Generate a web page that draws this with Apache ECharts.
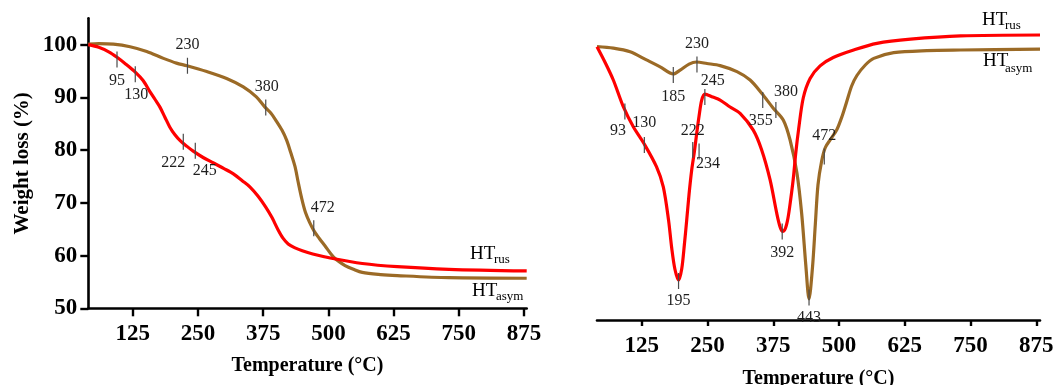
<!DOCTYPE html>
<html>
<head>
<meta charset="utf-8">
<script src="https://cdn.jsdelivr.net/npm/echarts@6/dist/echarts.min.js"></script>
<style>
  html, body { margin: 0; padding: 0; background: #fff; }
  #chart { width: 1054px; height: 385px; }
</style>
</head>
<body>
<div id="chart"></div>
<script>
// Temperature ticks shared by both panels, weight ticks for the TG panel
const tempTicks = [125, 250, 375, 500, 625, 750, 875];
const weightTicks = [50, 60, 70, 80, 90, 100];

// TG curves: [temperature °C, weight %]
const tgaRus = [
  [40, 100], [60, 99.5], [80, 98.6], [95, 97.6], [112, 96.3], [130, 94.8], [145, 93.2],
  [158, 91.1], [168, 89.6], [177, 88.2], [187, 86.2], [196, 84.4], [206, 82.9], [216, 81.8],
  [228, 80.8], [241, 79.8], [260, 78.6], [279, 77.6], [300, 76.5], [318, 75.5], [335, 74.2],
  [350, 73], [365, 71.3], [380, 69.2], [392, 67.2], [403, 65], [413, 63.3], [423, 62.2],
  [435, 61.5], [450, 60.9], [470, 60.3], [506, 59.5], [565, 58.5], [632, 57.9], [731, 57.4],
  [880, 57.1]
];
const tgaAsym = [
  [40, 100.1], [60, 100.2], [88, 100.1], [120, 99.6], [152, 98.7], [184, 97.4], [209, 96.5],
  [229, 96], [267, 94.9], [305, 93.6], [337, 92], [362, 90.1], [378, 88.2], [390, 87],
  [401, 85.4], [411, 83.8], [420, 81.9], [428, 79.5], [436, 76.9], [442, 74], [449, 70.8],
  [456, 68.2], [464, 66.3], [473, 64.6], [483, 63.2], [493, 61.9], [509, 59.8], [520, 58.9],
  [532, 58.1], [548, 57.4], [565, 56.8], [600, 56.4], [632, 56.2], [731, 55.8], [880, 55.7]
];

// DTG curves: [temperature °C, signal (arb. units)]
const dtgRus = [
  [40, 91.1], [55, 86], [71, 80], [90, 71.1], [109, 64.4], [131, 58.3], [153, 51.1],
  [166, 44.4], [176, 33.3], [182, 24], [188, 17], [195, 13.3], [201, 17], [206, 25],
  [210.5, 33.3], [215, 42], [220, 50], [225, 56], [229.5, 62.2], [234, 68], [239, 73.3],
  [245, 75.3], [260, 74.3], [274, 73.3], [293, 71], [312, 68.9], [337, 63.3], [353, 56.7],
  [369, 46.7], [381.6, 35.6], [388, 31], [393, 29.5], [398, 30.5], [403, 34], [408, 40],
  [413, 47], [418, 56], [423, 63.3], [432, 74], [445, 80.5], [464, 84.7], [489, 87.5],
  [528, 90], [572, 92.2], [636, 93.6], [731, 94.7], [882, 95]
];
const dtgAsym = [
  [40, 91.1], [71, 90.6], [103, 89.4], [134, 86.7], [160, 84.4], [185, 82], [198, 83.3],
  [215, 85.3], [229, 86], [249, 85.5], [274, 84.8], [306, 82.8], [331, 80], [353, 75.6],
  [375, 70.6], [394, 66.7], [407, 60], [420, 49], [429, 35.5], [437, 18], [443, 7],
  [449.7, 17.8], [455, 32], [460, 45], [467, 53], [474, 57.5], [485, 60.5], [496, 63.5],
  [506, 68], [515, 73], [524, 78], [534, 81.5], [550, 85], [566, 87.2], [604, 89.1],
  [667, 89.8], [731, 90], [882, 90.3]
];

// Marked temperatures on each curve: [temperature, value on the curve]
const tgaRusNotes = [[95, 97.2], [130, 94.4], [222, 81.6], [245, 79.9]];
const tgaAsymNotes = [[230, 96.0], [380, 88.1], [472, 65.2]];
const dtgRusNotes = [[93, 69.5], [130, 58.3], [195, 13], [222, 56.7], [234, 56.2], [245, 74.3], [392, 29.5]];
const dtgAsymNotes = [[185, 81.7], [230, 85.2], [355, 73.3], [380, 70], [443, 7.5], [472, 54.5]];

// Label placement (pixel offset of each number from its marker)
const tgaRusNoteOffsets = [[0, 21], [1, 21], [-10, 21], [9.5, 20.5]];
const tgaAsymNoteOffsets = [[0, -21], [1, -20.5], [9, -20]];
const dtgRusNoteOffsets = [[-7, 19.5], [0, -22], [0, 20], [0, -19], [9, 12], [8, -16], [0, 21]];
const dtgAsymNoteOffsets = [[0, 21.5], [0, -21], [-2, 21], [10, -18], [0, 20.5], [0, -21]];

const RED = '#ff0000';
const BROWN = '#9b6a26';
const SERIF = '"Liberation Serif", "Times New Roman", serif';

function noteRenderer(offsets) {
  return function (params, api) {
    const p = api.coord([api.value(0), api.value(1)]);
    const o = offsets[params.dataIndex];
    return {
      type: 'group',
      children: [
        {
          type: 'line',
          shape: { x1: p[0], y1: p[1] - 8, x2: p[0], y2: p[1] + 8 },
          style: { stroke: '#4a4a4a', lineWidth: 1.2 }
        },
        {
          type: 'text',
          x: p[0] + o[0],
          y: p[1] + o[1],
          style: {
            text: String(api.value(0)),
            font: '16px ' + SERIF,
            fill: '#1e1e1e',
            align: 'center',
            verticalAlign: 'middle'
          }
        }
      ]
    };
  };
}

function noteSeries(data, offsets, gridIdx) {
  return {
    type: 'custom',
    xAxisIndex: gridIdx,
    yAxisIndex: gridIdx,
    data: data,
    renderItem: noteRenderer(offsets),
    silent: true,
    clip: false,
    z: 5
  };
}

function curve(data, color, gridIdx) {
  return {
    type: 'line',
    xAxisIndex: gridIdx,
    yAxisIndex: gridIdx,
    data: data,
    showSymbol: false,
    smooth: 0.3,
    lineStyle: { color: color, width: 3.2 },
    silent: true,
    z: 3
  };
}

function tempAxis(gridIdx, tickLen, labelMargin, nameGap) {
  return {
    type: 'value',
    gridIndex: gridIdx,
    min: 40,
    max: gridIdx === 0 ? 880 : 882,
    name: 'Temperature (°C)',
    nameLocation: 'middle',
    nameGap: nameGap,
    nameTextStyle: { fontFamily: SERIF, fontWeight: 'bold', fontSize: 20, color: '#000' },
    axisLine: { show: true, onZero: false, lineStyle: { color: '#000', width: 2.6 } },
    axisTick: { show: true, customValues: tempTicks, length: tickLen, lineStyle: { color: '#000', width: 2.4 } },
    axisLabel: {
      customValues: tempTicks, margin: labelMargin,
      fontFamily: SERIF, fontWeight: 'bold', fontSize: 23, color: '#000'
    },
    splitLine: { show: false }
  };
}

const chart = echarts.init(document.getElementById('chart'), null, { renderer: 'canvas' });

chart.setOption({
  animation: false,
  backgroundColor: '#fff',
  grid: [
    { left: 88.3, top: 18.3, width: 438.4, height: 290, outerBoundsMode: 'none', containLabel: false },
    { left: 597, top: 20, width: 443, height: 300, outerBoundsMode: 'none', containLabel: false }
  ],
  xAxis: [
    tempAxis(0, 8, 14, 48),
    tempAxis(1, 6, 15, 49)
  ],
  yAxis: [
    {
      type: 'value',
      gridIndex: 0,
      min: 50,
      max: 105,
      name: 'Weight loss (%)',
      nameLocation: 'middle',
      nameGap: 55,
      nameTextStyle: { fontFamily: SERIF, fontWeight: 'bold', fontSize: 21, color: '#000' },
      axisLine: { show: true, lineStyle: { color: '#000', width: 2.6 } },
      axisTick: { show: true, customValues: weightTicks, length: 8, lineStyle: { color: '#000', width: 2.4 } },
      axisLabel: {
        customValues: weightTicks, margin: 11,
        fontFamily: SERIF, fontWeight: 'bold', fontSize: 23, color: '#000'
      },
      splitLine: { show: false }
    },
    {
      type: 'value',
      gridIndex: 1,
      min: 0,
      max: 100,
      show: false,
      splitLine: { show: false }
    }
  ],
  graphic: [
    // TG panel curve names
    { type: 'text', x: 470, y: 254, style: { text: 'HT', font: '19px ' + SERIF, fill: '#000', verticalAlign: 'middle' } },
    { type: 'text', x: 494, y: 260, style: { text: 'rus', font: '13px ' + SERIF, fill: '#000', verticalAlign: 'middle' } },
    { type: 'text', x: 472, y: 291.5, style: { text: 'HT', font: '19px ' + SERIF, fill: '#000', verticalAlign: 'middle' } },
    { type: 'text', x: 496, y: 297, style: { text: 'asym', font: '13px ' + SERIF, fill: '#000', verticalAlign: 'middle' } },
    // DTG panel curve names
    { type: 'text', x: 982, y: 20, style: { text: 'HT', font: '19px ' + SERIF, fill: '#000', verticalAlign: 'middle' } },
    { type: 'text', x: 1005, y: 26, style: { text: 'rus', font: '13px ' + SERIF, fill: '#000', verticalAlign: 'middle' } },
    { type: 'text', x: 983, y: 61.5, style: { text: 'HT', font: '19px ' + SERIF, fill: '#000', verticalAlign: 'middle' } },
    { type: 'text', x: 1005, y: 68.5, style: { text: 'asym', font: '13px ' + SERIF, fill: '#000', verticalAlign: 'middle' } }
  ],
  series: [
    curve(tgaAsym, BROWN, 0),
    curve(tgaRus, RED, 0),
    curve(dtgAsym, BROWN, 1),
    curve(dtgRus, RED, 1),
    noteSeries(tgaRusNotes, tgaRusNoteOffsets, 0),
    noteSeries(tgaAsymNotes, tgaAsymNoteOffsets, 0),
    noteSeries(dtgRusNotes, dtgRusNoteOffsets, 1),
    noteSeries(dtgAsymNotes, dtgAsymNoteOffsets, 1)
  ]
});
</script>
</body>
</html>
